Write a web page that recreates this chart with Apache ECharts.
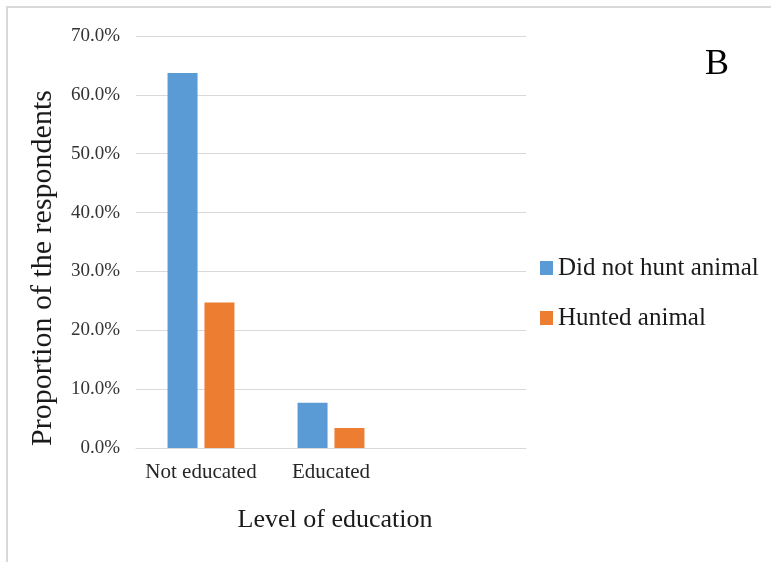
<!DOCTYPE html>
<html>
<head>
<meta charset="utf-8">
<script src="https://cdn.jsdelivr.net/npm/echarts@6/dist/echarts.min.js"></script>
<style>html,body{margin:0;padding:0;background:#fff;}#c{width:771px;height:562px;}</style>
</head>
<body>
<div id="c"></div>
<script>
var categories = ['Not educated', 'Educated', ''];
var seriesNames = ['Did not hunt animal', 'Hunted animal'];
var didNotHunt = [63.7, 7.7, null];
var hunted = [24.7, 3.4, null];
var yTicks = [0, 10, 20, 30, 40, 50, 60, 70];

var font = '"Liberation Serif", "DejaVu Serif", serif';
var chart = echarts.init(document.getElementById('c'), null, {renderer: 'canvas'});
chart.setOption({
  backgroundColor: '#fff',
  animation: false,
  grid: {left: 136, right: 245, top: 36, bottom: 114, containLabel: false},
  legend: {
    orient: 'vertical', left: 535, top: 248,
    itemWidth: 13, itemHeight: 14, itemGap: 20, icon: 'rect',
    textStyle: {fontFamily: font, fontSize: 25, color: '#1a1a1a', lineHeight: 30},
    data: seriesNames
  },
  xAxis: {
    type: 'category', data: categories,
    axisLine: {show: true, lineStyle: {color: '#d9d9d9', width: 1}},
    axisTick: {show: false},
    axisLabel: {fontFamily: font, fontSize: 21, color: '#262626', margin: 14, interval: 0}
  },
  yAxis: {
    type: 'value', min: yTicks[0], max: yTicks[yTicks.length - 1], interval: 10,
    axisLine: {show: false}, axisTick: {show: false},
    splitLine: {lineStyle: {color: '#d9d9d9', width: 1}},
    axisLabel: {fontFamily: font, fontSize: 19, color: '#333', margin: 16,
      formatter: function (v) { return v.toFixed(1) + '%'; }}
  },
  series: [
    {name: seriesNames[0], type: 'bar', data: didNotHunt, barWidth: 30, barGap: '23%',
      itemStyle: {color: '#5b9bd5'}},
    {name: seriesNames[1], type: 'bar', data: hunted, barWidth: 30, barGap: '23%',
      itemStyle: {color: '#ed7d31'}}
  ],
  graphic: [
    {type: 'rect', silent: true, shape: {x: 7, y: 7, width: 820, height: 620},
      style: {fill: 'none', stroke: '#d9d9d9', lineWidth: 2}, z: -1},
    {type: 'text', x: 43, y: 268, rotation: Math.PI / 2,
      style: {text: 'Proportion of the respondents', font: '30px ' + font, fill: '#1a1a1a',
        textAlign: 'center', textVerticalAlign: 'middle'}},
    {type: 'text', x: 335, y: 520,
      style: {text: 'Level of education', font: '26px ' + font, fill: '#1a1a1a',
        textAlign: 'center', textVerticalAlign: 'middle'}},
    {type: 'text', x: 717, y: 65,
      style: {text: 'B', font: '36px ' + font, fill: '#000',
        textAlign: 'center', textVerticalAlign: 'middle'}}
  ]
});
</script>
</body>
</html>
